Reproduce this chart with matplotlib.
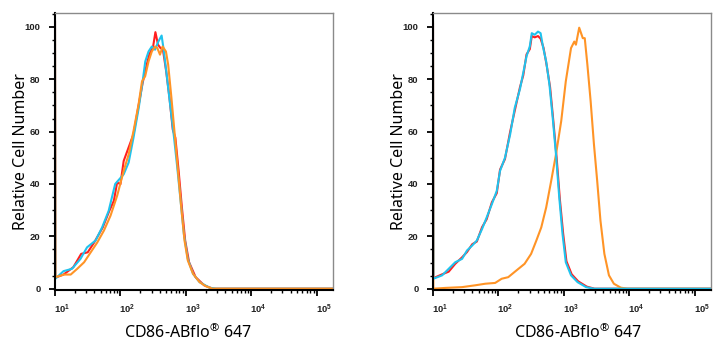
import numpy as np
import matplotlib
matplotlib.use("Agg")
import matplotlib.pyplot as plt
import matplotlib.transforms as mtransforms
from matplotlib.ticker import LogLocator, NullFormatter, MultipleLocator

plt.rcParams['font.family'] = ['Noto Sans', 'DejaVu Sans']
plt.rcParams['mathtext.fontset'] = 'custom'
plt.rcParams['mathtext.rm'] = 'Noto Sans'

# values: x as log10(fluorescence), y as % of mode
# left panel
left_red_logx = [1.0, 1.005, 1.13, 1.28, 1.40, 1.50, 1.60, 1.73, 1.83, 1.90, 1.95, 2.0, 2.05,
                 2.126, 2.20, 2.28, 2.34, 2.39, 2.44, 2.50, 2.535, 2.575, 2.61, 2.65, 2.70,
                 2.75, 2.80, 2.84, 2.89, 2.94, 2.99, 3.05, 3.15, 3.28, 3.41, 5.25]
left_red_y = [102, 4.2, 5.4, 8.2, 13.3, 13.9, 17.7, 23.4, 29.7, 33.6, 40.6, 39.9, 48.8,
              54.0, 59.0, 70.3, 78.6, 84.3, 89.4, 92.5, 98.0, 93.2, 92.0, 91.3, 83.0,
              72.9, 60.8, 57.7, 45.0, 31.0, 18.4, 10.1, 4.4, 1.3, 0, 0]

left_cyan_logx = [1.0, 1.005, 1.13, 1.26, 1.39, 1.49, 1.62, 1.72, 1.82, 1.92, 2.05, 2.126,
                  2.20, 2.28, 2.34, 2.38, 2.43, 2.48, 2.53, 2.58, 2.63, 2.665, 2.71, 2.76,
                  2.82, 2.87, 2.92, 2.97, 3.03, 3.11, 3.21, 3.36, 3.46, 5.25]
left_cyan_y = [102, 3.8, 6.7, 7.6, 11.4, 15.8, 18.4, 23.4, 29.7, 40.0, 43.7, 48.2,
               57.7, 69.1, 79.2, 86.8, 90.6, 92.5, 91.3, 94.4, 96.7, 90.6, 81.1, 70.3,
               57.7, 46.1, 33.6, 20.9, 11.4, 5.7, 2.5, 0.4, 0, 0]

left_orange_logx = [1.0, 1.005, 1.14, 1.24, 1.34, 1.445, 1.546, 1.647, 1.748, 1.849, 1.95,
                    2.05, 2.126, 2.20, 2.277, 2.33, 2.378, 2.43, 2.48, 2.53, 2.565, 2.605,
                    2.645, 2.696, 2.73, 2.78, 2.83, 2.88, 2.93, 2.98, 3.03, 3.11, 3.21,
                    3.31, 3.41, 5.25]
left_orange_y = [102, 4.4, 5.4, 5.4, 7.6, 10.1, 13.9, 17.7, 22.2, 27.9, 35.5,
                 45.0, 51.3, 60.2, 70.3, 79.2, 81.1, 86.8, 90.6, 92.5, 91.9, 89.4,
                 92.5, 90.6, 85.6, 72.9, 59.0, 45.0, 31.0, 18.4, 10.8, 5.7, 2.5,
                 0.9, 0, 0]

# right panel
right_cyan_logx = [1.0, 1.005, 1.14, 1.24, 1.34, 1.445, 1.52, 1.60, 1.67, 1.75, 1.82, 1.90,
                   1.975, 2.025, 2.10, 2.18, 2.25, 2.33, 2.38, 2.43, 2.48, 2.51, 2.555,
                   2.605, 2.645, 2.68, 2.73, 2.78, 2.83, 2.88, 2.93, 2.98, 3.03, 3.11,
                   3.21, 3.34, 3.46, 5.25]
right_cyan_y = [102, 3.8, 5.1, 7.6, 10.1, 11.4, 14.6, 16.5, 18.4, 22.8, 27.2, 32.3,
                37.4, 45.0, 50.0, 59.0, 69.1, 76.3, 82.5, 88.8, 92.6, 97.6, 97.0,
                98.2, 97.6, 92.6, 86.8, 78.0, 65.3, 51.3, 34.9, 20.9, 10.1, 5.1,
                2.5, 0.6, 0, 0]

right_red_logx = [1.0, 1.005, 1.14, 1.24, 1.34, 1.445, 1.52, 1.60, 1.67, 1.75, 1.82, 1.90,
                  1.975, 2.025, 2.10, 2.18, 2.25, 2.33, 2.38, 2.43, 2.48, 2.51, 2.555,
                  2.605, 2.645, 2.69, 2.74, 2.79, 2.84, 2.89, 2.94, 2.99, 3.04, 3.12,
                  3.22, 3.35, 3.47, 5.25]
right_red_y = [101, 4.0, 5.5, 6.5, 9.5, 12.0, 14.0, 17.0, 18.0, 23.5, 26.5, 33.0,
               36.5, 45.5, 49.5, 60.0, 68.0, 77.0, 81.5, 89.5, 91.5, 96.5, 96.0,
               96.5, 95.5, 92.0, 85.0, 77.0, 64.0, 50.0, 34.0, 21.0, 10.5, 5.5,
               2.8, 0.8, 0, 0]

right_orange_logx = [1.0, 1.005, 1.19, 1.445, 1.647, 1.80, 1.95, 2.05, 2.15, 2.277, 2.40,
                     2.50, 2.58, 2.655, 2.73, 2.807, 2.88, 2.96, 3.03, 3.11, 3.16, 3.185,
                     3.235, 3.29, 3.32, 3.36, 3.41, 3.46, 3.51, 3.56, 3.62, 3.69, 3.765,
                     3.87, 3.97, 5.25]
right_orange_y = [102, 0, 0.3, 0.6, 1.3, 1.9, 2.2, 3.8, 4.4, 7.0, 9.5,
                  13.3, 18.4, 23.4, 31.0, 41.2, 51.3, 64.0, 79.2, 91.9, 94.4, 93.2,
                  99.7, 95.7, 95.7, 85.6, 71.6, 55.3, 41.2, 26.0, 13.3, 5.1, 1.9,
                  0.4, 0, 0]

red = '#ff1f1f'
cyan = '#1fc3ee'
orange = '#ff9426'

panels = [
    [(left_red_logx, left_red_y, red), (left_cyan_logx, left_cyan_y, cyan),
     (left_orange_logx, left_orange_y, orange)],
    [(right_red_logx, right_red_y, red), (right_orange_logx, right_orange_y, orange),
     (right_cyan_logx, right_cyan_y, cyan)],
]

fig = plt.figure(figsize=(7.24, 3.5), dpi=100)
axes_left = [55 / 724, 433 / 724]
xlabel_x = [0.478, 0.52]
for left, curves, lx_pos in zip(axes_left, panels, xlabel_x):
    ax = fig.add_axes([left, 60 / 350, 278 / 724, 277.5 / 350])
    for lx, y, c in curves:
        ax.plot(10 ** np.array(lx), y, color=c, lw=1.5, solid_joinstyle='round')
    ax.set_xscale('log')
    ax.set_xlim(10, 10 ** 5.25)
    ax.set_ylim(-0.5, 105.5)

    ax.xaxis.set_major_locator(LogLocator(base=10, numticks=10))
    ax.xaxis.set_minor_locator(LogLocator(base=10, subs=np.arange(2, 10), numticks=20))
    ax.xaxis.set_minor_formatter(NullFormatter())
    ax.yaxis.set_major_locator(MultipleLocator(20))
    ax.yaxis.set_minor_locator(MultipleLocator(5))

    ax.tick_params(which='major', direction='out', length=4.5, width=1.3, color='black',
                   labelsize=6.8, labelcolor='#222222')
    ax.tick_params(which='minor', direction='out', length=2.3, width=1.0, color='black')
    ax.tick_params(axis='y', which='major', pad=6)
    ax.tick_params(axis='x', which='major', pad=5)
    for lab in ax.get_xticklabels() + ax.get_yticklabels():
        lab.set_fontweight('bold')
        lab.set_family(['Liberation Sans', 'DejaVu Sans'])
    offset = mtransforms.ScaledTranslation(0.07, 0, fig.dpi_scale_trans)
    for lab in ax.get_xticklabels():
        lab.set_transform(lab.get_transform() + offset)

    for side in ['top', 'right']:
        ax.spines[side].set_color('#8a8a8a')
        ax.spines[side].set_linewidth(1.0)
    for side in ['left', 'bottom']:
        ax.spines[side].set_color('black')
        ax.spines[side].set_linewidth(1.5)

    ax.set_ylabel('Relative Cell Number', fontsize=11.5)
    ax.yaxis.set_label_coords(-0.095, 0.5)
    ax.set_xlabel(r'CD86-ABflo$^{\mathrm{®}}$ 647', fontsize=11.5)
    ax.xaxis.set_label_coords(lx_pos, -0.12)

fig.savefig('out.png', dpi=100)
